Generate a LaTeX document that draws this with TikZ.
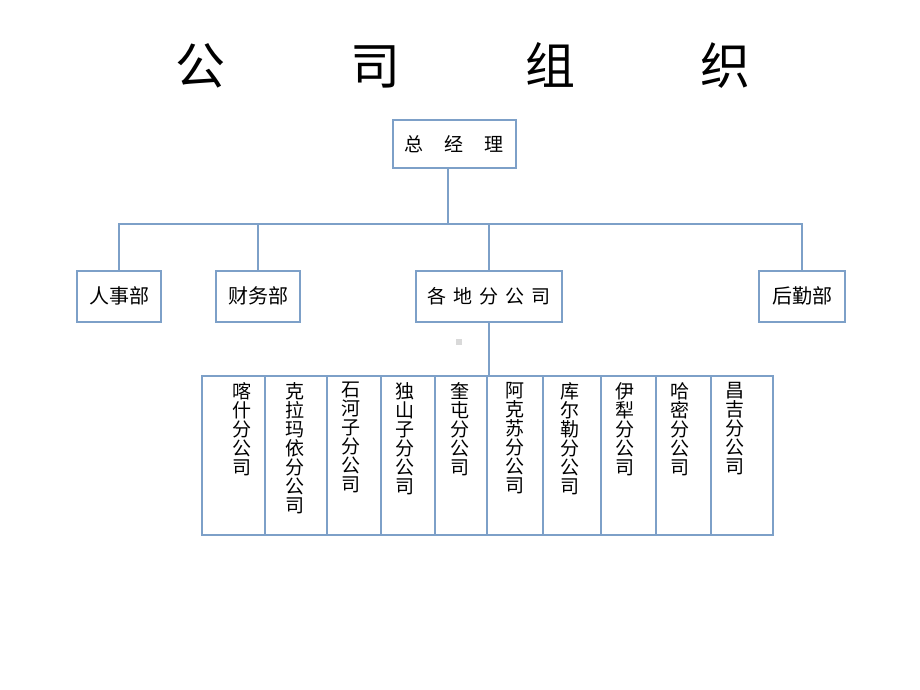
\documentclass[tikz,border=0pt]{standalone}
\usepackage{fontspec}
\setmainfont{Noto Sans CJK SC}
\definecolor{frame}{RGB}{125,160,200}
\begin{document}
\begin{tikzpicture}[x=1pt,y=-1pt,
  box/.style={draw=frame,line width=2pt,fill=white,inner sep=0pt,font=\fontsize{20}{22}\selectfont},
  col/.style={draw=frame,line width=2pt,inner sep=0pt,minimum height=159pt},
  vtext/.style={anchor=north,align=center,inner sep=0pt,font=\fontsize{19}{19}\selectfont},
  link/.style={draw=frame,line width=2pt}]
\useasboundingbox[fill=white] (0,0) rectangle (920,690);
% title
\node[font=\fontsize{50}{56}\selectfont] (title) at (463,65) {公\hspace{125pt}司\hspace{125pt}组\hspace{125pt}织};
% top box
\node[box,font=\fontsize{19}{21}\selectfont,minimum width=123pt,minimum height=48pt] (gm) at (454,144) {总\hspace{21pt}经\hspace{21pt}理};
% second row
\node[box,minimum width=84pt,minimum height=51pt] (rs) at (119,296) {人事部};
\node[box,minimum width=84pt,minimum height=51pt] (cw) at (258,296) {财务部};
\node[box,font=\fontsize{19}{21}\selectfont,minimum width=146pt,minimum height=51pt] (gd) at (489,296) {各\hspace{7pt}地\hspace{7pt}分\hspace{7pt}公\hspace{7pt}司};
\node[box,minimum width=86pt,minimum height=51pt] (hq) at (802,296) {后勤部};
% connectors
\coordinate (j) at (448,224);
\draw[link] (j |- gm.south) -- (j);
\draw[link] (rs.north) |- (j) -| (hq.north);
\draw[link] (cw.north) -- (cw.north |- j);
\draw[link] (gd.north) -- (gd.north |- j);
% table columns
\node[col,minimum width=63pt] (c1) at (233.5,455.5) {};
\node[col,minimum width=62pt] (c2) at (296,455.5) {};
\node[col,minimum width=54pt] (c3) at (354,455.5) {};
\node[col,minimum width=54pt] (c4) at (408,455.5) {};
\node[col,minimum width=52pt] (c5) at (461,455.5) {};
\node[col,minimum width=56pt] (c6) at (515,455.5) {};
\node[col,minimum width=58pt] (c7) at (572,455.5) {};
\node[col,minimum width=55pt] (c8) at (628.5,455.5) {};
\node[col,minimum width=55pt] (c9) at (683.5,455.5) {};
\node[col,minimum width=62pt] (c10) at (742,455.5) {};
\draw[link] (gd.south) -- (gd.south |- c1.north);
% column texts
\node[vtext] (t1) at (242,382) {喀\\什\\分\\公\\司};
\node[vtext] (t2) at (295,382) {克\\拉\\玛\\依\\分\\公\\司};
\node[vtext] (t3) at (351,382) {石\\河\\子\\分\\公\\司};
\node[vtext] (t4) at (405,382) {独\\山\\子\\分\\公\\司};
\node[vtext] (t5) at (460,382) {奎\\屯\\分\\公\\司};
\node[vtext] (t6) at (515,382) {阿\\克\\苏\\分\\公\\司};
\node[vtext] (t7) at (570,382) {库\\尔\\勒\\分\\公\\司};
\node[vtext] (t8) at (625,382) {伊\\犁\\分\\公\\司};
\node[vtext] (t9) at (680,382) {哈\\密\\分\\公\\司};
\node[vtext] (t10) at (735,382) {昌\\吉\\分\\公\\司};
% small grey mark
\fill[black!15] (456,339) rectangle (462,345);
\end{tikzpicture}
\end{document}
